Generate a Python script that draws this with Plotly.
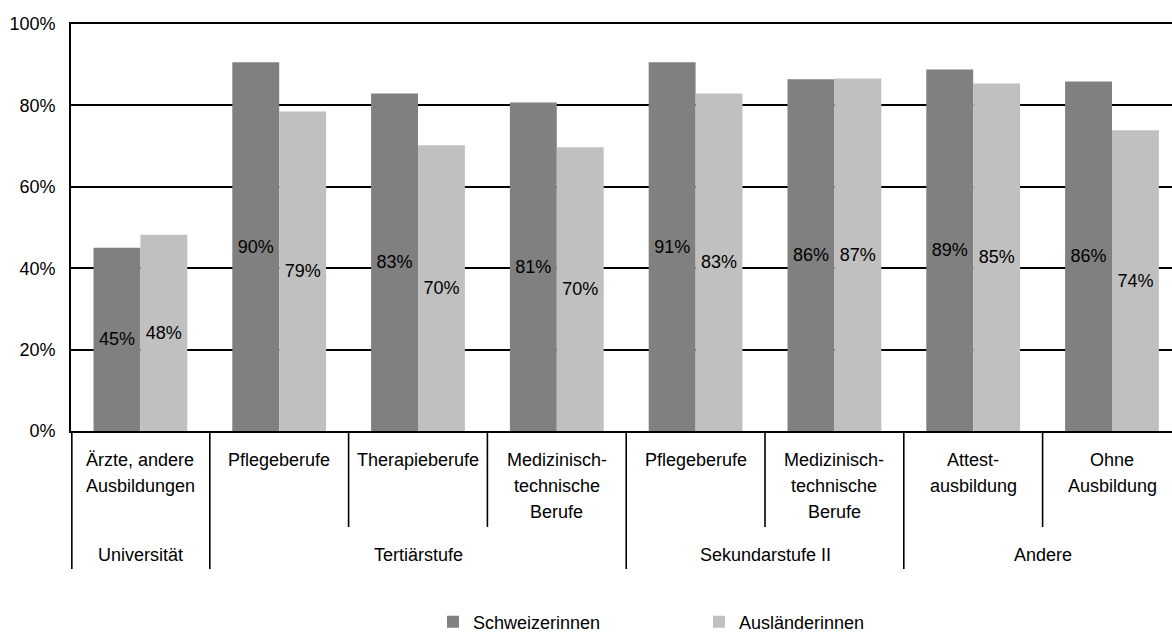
import plotly.graph_objects as go

# ---- data ----
subcategories = [
    ["Ärzte, andere", "Ausbildungen"],
    ["Pflegeberufe"],
    ["Therapieberufe"],
    ["Medizinisch-", "technische", "Berufe"],
    ["Pflegeberufe"],
    ["Medizinisch-", "technische", "Berufe"],
    ["Attest-", "ausbildung"],
    ["Ohne", "Ausbildung"],
]
groups = ["Universität", "Tertiärstufe", "Sekundarstufe II", "Andere"]
group_sizes = [1, 3, 2, 2]

schweizerinnen = [45.0, 90.6, 82.9, 80.7, 90.6, 86.4, 88.8, 85.9]
schweizerinnen_labels = ["45%", "90%", "83%", "81%", "91%", "86%", "89%", "86%"]
auslaenderinnen = [48.2, 78.5, 70.2, 69.7, 82.9, 86.6, 85.4, 73.9]
auslaenderinnen_labels = ["48%", "79%", "70%", "70%", "83%", "87%", "85%", "74%"]

series_names = ["Schweizerinnen", "Ausländerinnen"]
y_ticks = [0, 20, 40, 60, 80, 100]

FONT = "Liberation Sans, Arial, sans-serif"
DARK = "#808080"
LIGHT = "#C0C0C0"

x_pos = list(range(len(subcategories)))

fig = go.Figure()
fig.add_trace(go.Bar(
    x=x_pos, y=schweizerinnen, name=series_names[0],
    marker=dict(color=DARK, line=dict(width=0)),
    text=schweizerinnen_labels, textposition="inside",
    insidetextanchor="middle", textangle=0, constraintext="none",
    textfont=dict(color="black", size=18, family=FONT),
    hoverinfo="skip",
))
fig.add_trace(go.Bar(
    x=x_pos, y=auslaenderinnen, name=series_names[1],
    marker=dict(color=LIGHT, line=dict(width=0)),
    text=auslaenderinnen_labels, textposition="inside",
    insidetextanchor="middle", textangle=0, constraintext="none",
    textfont=dict(color="black", size=18, family=FONT),
    hoverinfo="skip",
))

W, H = 1172, 634
ml, mr, mt, mb = 71, 0, 24, 203
plot_h = H - mt - mb
plot_w = W - ml - mr
cat_px = 138.8
x_right = -0.5 + plot_w / cat_px

def py(px_below):
    # pixel distance below the x axis -> paper coordinate
    return -px_below / plot_h

shapes = []
annotations = []

# sub-category labels
line_gap = 26
for i, lines in enumerate(subcategories):
    for j, t in enumerate(lines):
        annotations.append(dict(
            x=i, y=py(29 + j * line_gap), xref="x", yref="paper",
            text=t, showarrow=False, xanchor="center", yanchor="middle",
            font=dict(size=18, family=FONT, color="black"),
        ))

# dividers and group labels
start = 0
boundaries_full = {0}
for g, n in zip(groups, group_sizes):
    center = start + (n - 1) / 2
    annotations.append(dict(
        x=center, y=py(124), xref="x", yref="paper",
        text=g, showarrow=False, xanchor="center", yanchor="middle",
        font=dict(size=18, family=FONT, color="black"),
    ))
    start += n
    boundaries_full.add(start)

for b in range(0, len(subcategories)):
    xb = b - 0.5
    if b == 0:
        xb += 0.006
    full = b in boundaries_full
    shapes.append(dict(
        type="line", xref="x", yref="paper",
        x0=xb, x1=xb, y0=0, y1=py(138 if full else 96),
        line=dict(color="black", width=1.6),
    ))

fig.update_layout(
    width=W, height=H,
    margin=dict(l=ml, r=mr, t=mt, b=mb, pad=0, autoexpand=False),
    paper_bgcolor="white", plot_bgcolor="white",
    barmode="group", bargap=0.324, bargroupgap=0,
    font=dict(family=FONT, size=18, color="black"),
    xaxis=dict(
        range=[-0.5, x_right], showticklabels=False, showgrid=False,
        zeroline=False, showline=True, linecolor="black", linewidth=1.6,
        mirror=True, ticks="", fixedrange=True, automargin=False,
    ),
    yaxis=dict(
        range=[0, 100], tickvals=y_ticks, ticktext=[f"{v}%" for v in y_ticks],
        showgrid=True, gridcolor="black", gridwidth=1.6,
        zeroline=False, showline=True, linecolor="black", linewidth=1.6,
        ticks="", ticklabelstandoff=10, automargin=False,
        tickfont=dict(size=18, family=FONT, color="black"),
    ),
    legend=dict(
        orientation="h", x=(433 - ml) / plot_w, xanchor="left",
        y=py(191), yanchor="middle",
        font=dict(size=18, family=FONT, color="black"),
        entrywidth=221, entrywidthmode="pixels", itemwidth=30,
        traceorder="normal", bgcolor="rgba(0,0,0,0)",
    ),
    shapes=shapes,
    annotations=annotations,
    showlegend=True,
)

fig.write_html(
    "out.html",
    config={"displayModeBar": False},
    post_script="document.body.style.margin='0';document.body.style.overflow='hidden';",
)
